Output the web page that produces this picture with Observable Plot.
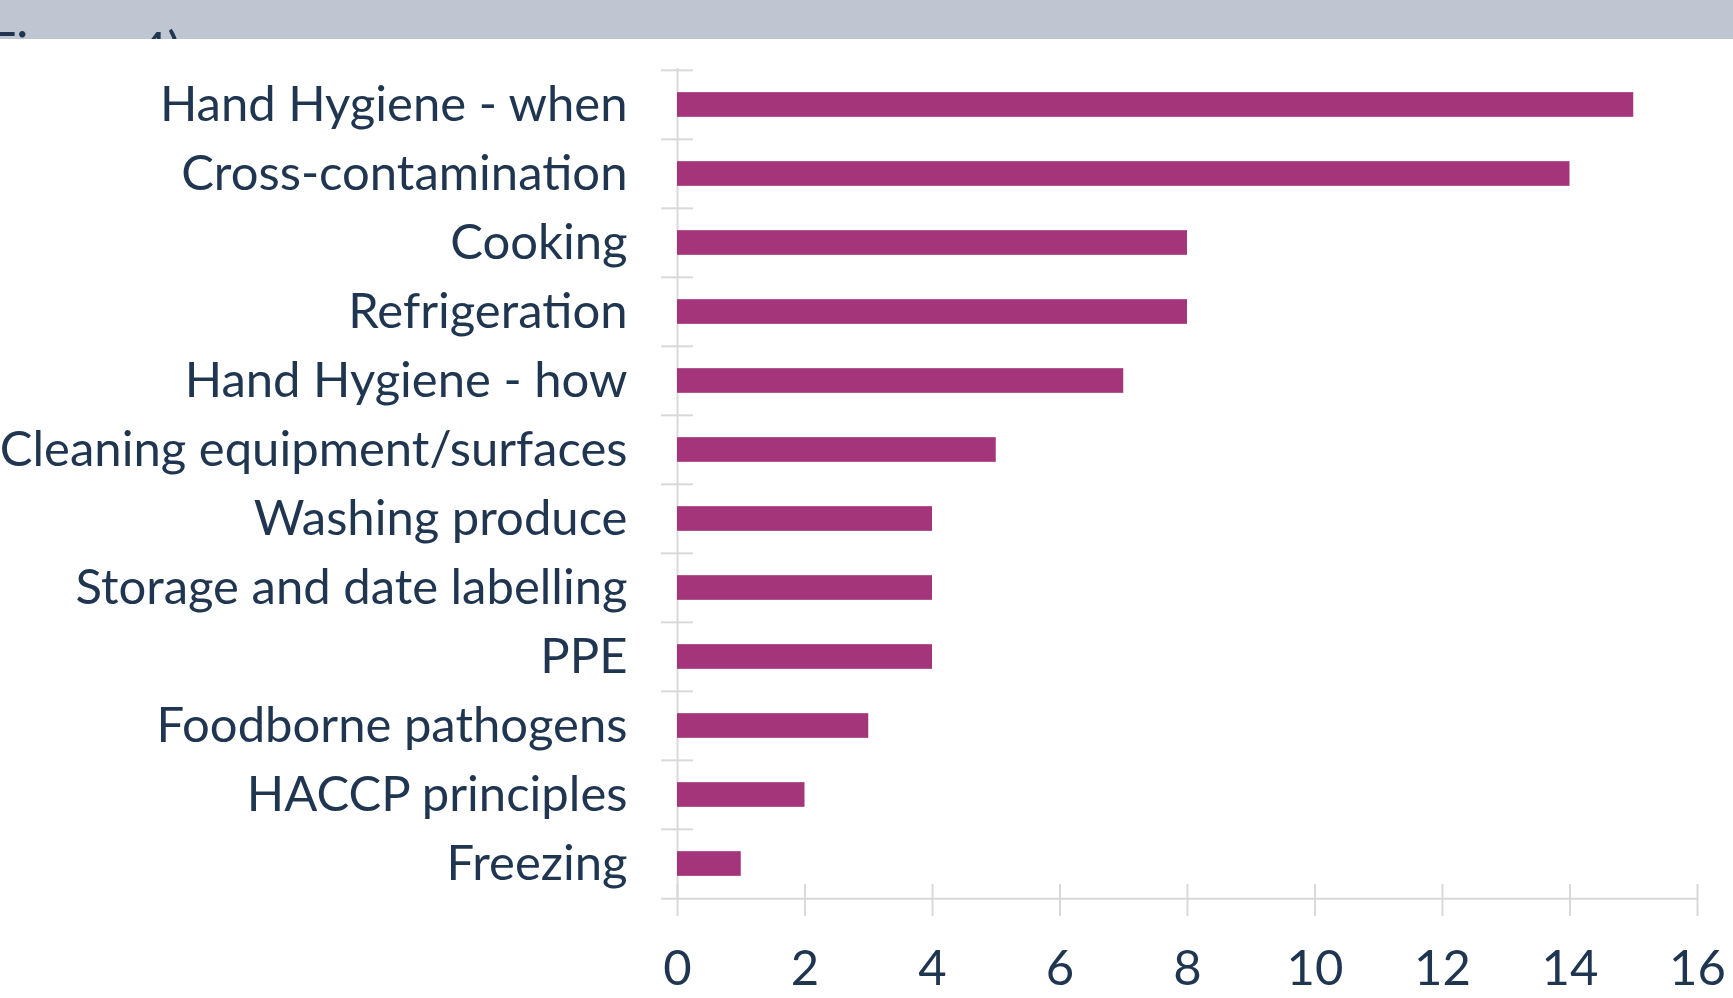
<!DOCTYPE html>
<html><head><meta charset="utf-8">
<script src="https://cdn.jsdelivr.net/npm/d3@7"></script>
<script src="https://cdn.jsdelivr.net/npm/@observablehq/plot@0.6"></script>
<style>
body{margin:0;background:#fff;width:1733px;height:998px;overflow:hidden;font-family:Lato,sans-serif;}
#band{position:relative;height:39px;background:#BFC5D1;overflow:hidden;}
#band span{position:absolute;left:-12px;top:24px;font-size:50px;color:#1F3550;line-height:1;white-space:nowrap;}
#chart svg{display:block;overflow:visible;}
</style></head>
<body><div id="band"><span>Figure 4)</span></div><div id="chart"></div>
<script>
const categories = ["Hand Hygiene - when","Cross-contamination","Cooking","Refrigeration","Hand Hygiene - how","Cleaning equipment/surfaces","Washing produce","Storage and date labelling","PPE","Foodborne pathogens","HACCP principles","Freezing"];
const values = [15,14,8,8,7,5,4,4,4,3,2,1];
const xTicks = [0,2,4,6,8,10,12,14,16];
const data = categories.map((c,i)=>({category:c, value: values[i]}));
const W=1733,H=959, mt=29, mb=98, ml=677, mr=36;
const step=(H-mt-mb)/categories.length;
const barH = 25;
const grid = "#D9D9D9", ink = "#1F3550", barColor = "#A4357A";
const plot = Plot.plot({
  width:W,height:H,marginTop:mt,marginBottom:mb,marginLeft:ml,marginRight:mr,
  style:{fontFamily:"Lato, sans-serif", fontSize:"49px", color:ink, background:"transparent", overflow:"visible"},
  x:{domain:[0,16]},
  y:{domain:categories, padding:0},
  marks:[
    Plot.ruleY(categories,{y:d=>d, dy:-step/2, x1:-0.25, x2:0.25, stroke:grid, strokeWidth:2}),
    Plot.ruleY([categories[categories.length-1]],{y:d=>d, dy:step/2, x1:-0.25, x2:16, stroke:grid, strokeWidth:2}),
    Plot.ruleX([0],{stroke:grid, strokeWidth:2}),
    Plot.axisX(xTicks,{tickSize:32, dy:-16, tickPadding:34, stroke:grid, strokeWidth:2, fill:ink, label:null}),
    Plot.axisY({tickSize:0, tickPadding:50, label:null, fill:ink}),
    Plot.barX(data,{x:"value", y:"category", fill:barColor, insetTop:(step-barH)/2, insetBottom:(step-barH)/2})
  ]
});
document.getElementById("chart").appendChild(plot);
</script>
</body></html>
